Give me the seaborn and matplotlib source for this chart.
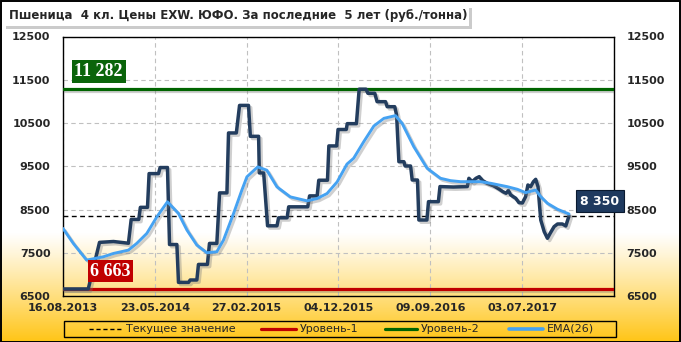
import numpy as np
import pandas as pd
import matplotlib
matplotlib.use("Agg")
import matplotlib.pyplot as plt
import matplotlib.patheffects as pe
from matplotlib.patches import Rectangle, FancyBboxPatch
from matplotlib.lines import Line2D
import seaborn as sns

# ---------------- data ----------------
title = "Пшеница  4 кл. Цены EXW. ЮФО. За последние  5 лет (руб./тонна)"

tick_weeks = [0, 40, 80, 120, 160, 200, 240]
tick_labels = ["16.08.2013", "23.05.2014", "27.02.2015", "04.12.2015",
               "09.09.2016", "03.07.2017", ""]
y_ticks = [6500, 7500, 8500, 9500, 10500, 11500, 12500]

price_weeks = [0, 11, 15.9, 22, 28.5, 29.7, 33, 33.7, 36.8, 37.5, 41.6, 42.3, 45.5,
               46.4, 49.6, 50.3, 54.7, 55.4, 58.3, 59, 62.9, 63.8, 67, 68.2, 71.4,
               72.1, 75.5, 76.9, 80.8, 81.6, 85.2, 85.5, 87.4, 89.1, 93.2, 93.9,
               97.6, 98.3, 106.6, 107.4, 110.7, 111.4, 115.2, 115.8, 119.2, 119.8,
               123.4, 123.8, 127.8, 129, 132, 132.8, 135.8, 136.8, 140.5, 141.2,
               144.5, 145.3, 146.3, 148.5, 149, 151.4, 152.1, 154.4, 155, 158.5,
               159.2, 163.5, 164.2, 170, 176.1, 176.8, 178.2, 179.9, 181.3, 182.8,
               184.8, 187.7, 190.1, 191.6, 193, 194, 195, 197.2, 198.6, 200.1,
               201.5, 202.5, 203.7, 204.9, 205.9, 206.9, 208.1, 209.6, 211, 212.2,
               213.9, 215.4, 217.5, 219, 220.4]
price_values = [6663, 6663, 7740, 7760, 7720, 8270, 8270, 8550, 8550, 9330, 9330, 9470, 9470,
                7690, 7690, 6815, 6815, 6870, 6870, 7230, 7230, 7716, 7716, 8884, 8884,
                10270, 10270, 10907, 10907, 10192, 10192, 9346, 9346, 8123, 8123, 8308,
                8308, 8562, 8562, 8815, 8815, 9177, 9177, 9970, 9970, 10350,
                10350, 10485, 10485, 11282, 11282, 11187, 11187, 10993, 10993, 10877,
                10877, 10685, 9605, 9605, 9506, 9506, 9182, 9182, 8257, 8257,
                8681, 8681, 9030, 9020, 9030, 9222, 9143, 9222, 9260, 9167,
                9106, 9044, 8967, 8912, 8875, 8940, 8836, 8760, 8658, 8650,
                8796, 9067, 9028, 9143, 9198, 9028, 8257, 7987, 7834, 7950,
                8103, 8165, 8165, 8119, 8350]

ema_weeks = [0, 4.5, 10.3, 17.6, 22, 28.5, 32.1, 36.5, 40.9, 45.5, 50.3, 54, 58.3,
             62.7, 67, 69.9, 74.3, 77.9, 80.1, 84.8, 88.8, 93.2, 99, 106.3, 110.7,
             115, 119.4, 123.7, 126.6, 131, 135.4, 139.8, 144.8, 147.7, 152.8, 158.6,
             164.4, 168.8, 173.2, 181.9, 186.3, 193.5, 197.9, 201.5, 205.9, 208.1,
             211, 215.4, 220.4]
ema_values = [8062, 7715, 7330, 7407, 7484, 7561, 7715, 7946, 8331, 8677, 8408, 8023, 7677,
              7500, 7523, 7792, 8408, 8946, 9254, 9485, 9408, 9023, 8792, 8700, 8754,
              8869, 9138, 9550, 9684, 10068, 10430, 10608, 10670, 10493, 9952, 9453,
              9222, 9167, 9143, 9143, 9106, 9028, 8967, 8890, 8951, 8796,
              8643, 8505, 8396]

level1 = 6663
level2 = 11282
current = 8350
label_level1 = "6 663"
label_level2 = "11 282"
label_current = "8 350"
legend_labels = ["Текущее значение", "Уровень-1", "Уровень-2", "EMA(26)"]

# ---------------- style ----------------
sns.set_style("white")
plt.rcParams["font.family"] = ["DejaVu Sans"]

W, H = 681, 342
fig = plt.figure(figsize=(W / 100, H / 100), dpi=100)

# background gradient
bg = fig.add_axes([0, 0, 1, 1], zorder=-10)
rows = np.arange(H)
t = np.clip((rows - 232) / (H - 232), 0, 1) ** 1.1
top = np.array([1.0, 1.0, 1.0])
bot = np.array([1.0, 0.77, 0.08])
grad = top[None, :] * (1 - t[:, None]) + bot[None, :] * t[:, None]
bg.imshow(np.repeat(grad[:, None, :], 4, axis=1), aspect="auto", extent=[0, 1, 0, 1],
          origin="upper")
bg.set_axis_off()
fig.patches.append(Rectangle((0.5 / W, 0.5 / H), 1 - 1.5 / W, 1 - 1.5 / H,
                             transform=fig.transFigure, fill=False, ec="black", lw=1.4))

ax = fig.add_axes([63 / W, 1 - 296 / H, (614 - 63) / W, (296 - 36.5) / H])
ax.patch.set_alpha(0)

price_df = pd.DataFrame({"week": price_weeks, "value": price_values})
ema_df = pd.DataFrame({"week": ema_weeks, "value": ema_values})

shadow = [pe.SimpleLineShadow(offset=(1.6, -1.6), shadow_color="#777777", alpha=0.35),
          pe.Normal()]

ax.axhline(level1, color="#C00000", lw=2.3, zorder=3, path_effects=shadow)
ax.axhline(level2, color="#006400", lw=2.3, zorder=3, path_effects=shadow)
ax.axhline(current, color="black", lw=1.0, ls=(0, (3.5, 2.5)), zorder=3)

sns.lineplot(data=price_df, x="week", y="value", ax=ax, sort=False, color="#233D5E",
             lw=2.5, zorder=5, path_effects=shadow)
sns.lineplot(data=ema_df, x="week", y="value", ax=ax, sort=False, color="#45A2F2",
             lw=2.1, zorder=6, path_effects=shadow)

ax.set_xlim(0, 240)
ax.set_ylim(6500, 12500)
ax.set_xticks(tick_weeks)
ax.set_xticklabels(tick_labels, fontsize=8, fontweight="bold")
ax.set_yticks(y_ticks)
ax.set_yticklabels([str(v) for v in y_ticks], fontsize=8, fontweight="bold")
ax.tick_params(axis="y", length=0, pad=9, labelleft=True, labelright=True)
ax.tick_params(axis="x", length=0, pad=5)
ax.set_xlabel("")
ax.set_ylabel("")
ax.grid(True, color="#C0C0C0", lw=0.8, ls=(0, (4, 3)))
for s in ax.spines.values():
    s.set_visible(True)
    s.set_color("black")
    s.set_linewidth(1.0)

# value boxes
ax.text(15.5, 11690, label_level2, color="white", fontsize=13, fontweight="bold",
        family="Liberation Serif", ha="center", va="center", zorder=8,
        bbox=dict(boxstyle="square,pad=0.15", fc="#0A640A", ec="none"))
ax.text(20.7, 7075, label_level1, color="white", fontsize=13, fontweight="bold",
        family="Liberation Serif", ha="center", va="center", zorder=8,
        bbox=dict(boxstyle="square,pad=0.15", fc="#C00000", ec="none"))
ax.text(233.8, 8690, label_current, color="white", fontsize=9, fontweight="bold",
        ha="center", va="center", zorder=8, clip_on=False,
        bbox=dict(boxstyle="square,pad=0.35", fc="#1F3A5F", ec="#0A1A30", lw=0.8))

# title box
tb = FancyBboxPatch((3 / W, 1 - 26 / H), 466 / W, 21 / H, boxstyle="square,pad=0",
                    transform=fig.transFigure, fc="white", ec="none", zorder=2,
                    path_effects=[pe.withSimplePatchShadow(offset=(2, -2), shadow_rgbFace="#999999",
                                                          alpha=0.5)])
fig.patches.append(tb)
fig.text(9 / W, 1 - 15.5 / H, title, fontsize=8.5, fontweight="bold", ha="left",
         va="center", zorder=3)

# legend (manual, figure coords)
lg = Rectangle((64 / W, 1 - 337 / H), 552 / W, 16.5 / H, transform=fig.transFigure,
               fill=False, ec="black", lw=1.0)
fig.patches.append(lg)
ly = 1 - 328.5 / H
items = [
    (89, 122, dict(color="black", lw=1.0, ls=(0, (3, 2)))),
    (261, 296, dict(color="#C00000", lw=2.3)),
    (385, 417, dict(color="#006400", lw=2.3)),
    (509, 543, dict(color="#45A2F2", lw=2.6)),
]
for (x0, x1, kw), lab in zip(items, legend_labels):
    fig.lines.append(Line2D([x0 / W, x1 / W], [ly, ly], transform=fig.transFigure, **kw))
    fig.text((x1 + 4) / W, ly, lab, fontsize=8, ha="left", va="center")

fig.savefig("out.png", dpi=100)
